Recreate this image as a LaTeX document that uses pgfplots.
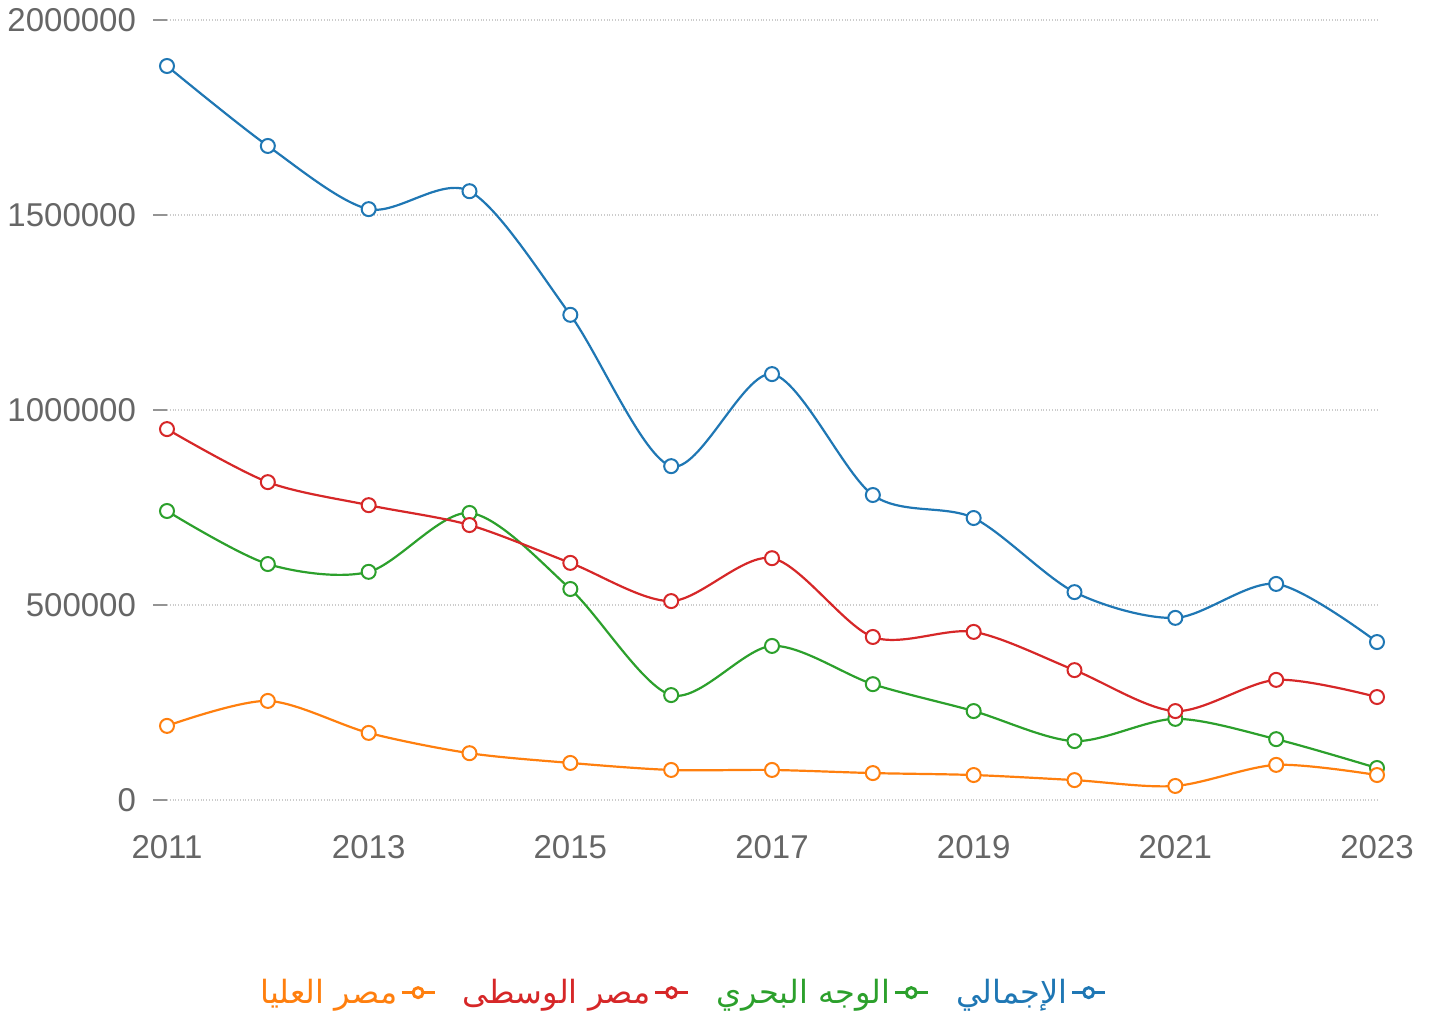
\documentclass[border=0pt]{standalone}
\usepackage{fontspec}
\setmainfont{Liberation Sans}
\newfontfamily\arabicfont[Script=Arabic]{DejaVu Sans}
\TeXXeTstate=1
\usepackage{pgfplots}
\pgfplotsset{compat=1.18}
\definecolor{cblue}{RGB}{31,119,180}
\definecolor{corange}{RGB}{255,127,14}
\definecolor{cgreen}{RGB}{44,160,44}
\definecolor{cred}{RGB}{214,39,40}
\definecolor{tickgray}{RGB}{102,102,102}
\begin{document}
\begin{tikzpicture}
\path[use as bounding box] (-83.5pt,-110.5pt) rectangle (632pt,400pt);
\begin{axis}[
  scale only axis,
  width=605pt, height=390pt,
  xmin=2011, xmax=2023, ymin=0, ymax=2000000,
  clip=false,
  axis line style={draw=none},
  tick pos=left,
  tick align=outside,
  major tick length=7pt,
  xtick={2011,2013,2015,2017,2019,2021,2023},
  xtick style={draw=none},
  ytick={0,500000,1000000,1500000,2000000},
  ytick style={draw=tickgray!70, line width=1pt},
  ymajorgrids,
  grid style={densely dotted, gray!40, line width=0.6pt},
  /pgf/number format/assume math mode=true,
  xticklabel={\pgfmathprintnumber[fixed,1000 sep={}]{\tick}},
  yticklabel={\pgfmathprintnumber[fixed,1000 sep={},precision=0]{\tick}},
  scaled y ticks=false,
  ticklabel style={font=\fontsize{16.5}{18}\selectfont, text=tickgray},
  xticklabel style={yshift=-7pt},
  yticklabel style={xshift=-5pt},
  every axis plot/.append style={smooth, tension=0.5, line width=1.1pt, mark=*, mark size=3.5pt, mark options={fill=white, line width=1pt}},
  reverse legend,
  legend columns=4,
  legend plot pos=right,
  legend style={at={(0.4256,-0.247)}, anchor=center, draw=none, fill=none,
    font=\fontsize{16}{18}\selectfont,
    nodes={inner xsep=1.5pt},
    /tikz/every even column/.append style={column sep=12pt}},
  legend image code/.code={%
    \draw[#1, mark=none, line width=1.4pt] (0cm,0cm) -- (0.58cm,0cm);
    \draw[#1, only marks, mark size=2.5pt, mark options={fill=white, line width=1.5pt}] plot coordinates {(0.29cm,0cm)};},
]
\addplot[cblue] coordinates {
(2011,1882000) (2012,1677000) (2013,1515000) (2014,1561000) (2015,1244000)
(2016,856000) (2017,1092000) (2018,782000) (2019,723000) (2020,533000)
(2021,467000) (2022,554000) (2023,405000)};
\addlegendentry{\textcolor{cblue}{\arabicfont\beginR الإجمالي\endR}}
\addplot[cgreen] coordinates {
(2011,741000) (2012,605000) (2013,585000) (2014,736000) (2015,541000)
(2016,269000) (2017,395000) (2018,297000) (2019,228000) (2020,151000)
(2021,208000) (2022,156000) (2023,82000)};
\addlegendentry{\textcolor{cgreen}{\arabicfont\beginR الوجه البحري\endR}}
\addplot[cred] coordinates {
(2011,951000) (2012,815000) (2013,756000) (2014,705000) (2015,608000)
(2016,510000) (2017,620000) (2018,418000) (2019,431000) (2020,333000)
(2021,228000) (2022,308000) (2023,264000)};
\addlegendentry{\textcolor{cred}{\arabicfont\beginR مصر الوسطى\endR}}
\addplot[corange] coordinates {
(2011,190000) (2012,254000) (2013,172000) (2014,120000) (2015,95000)
(2016,77000) (2017,77000) (2018,69000) (2019,64000) (2020,51000)
(2021,36000) (2022,90000) (2023,64000)};
\addlegendentry{\textcolor{corange}{\arabicfont\beginR مصر العليا\endR}}
\end{axis}
\end{tikzpicture}
\end{document}
